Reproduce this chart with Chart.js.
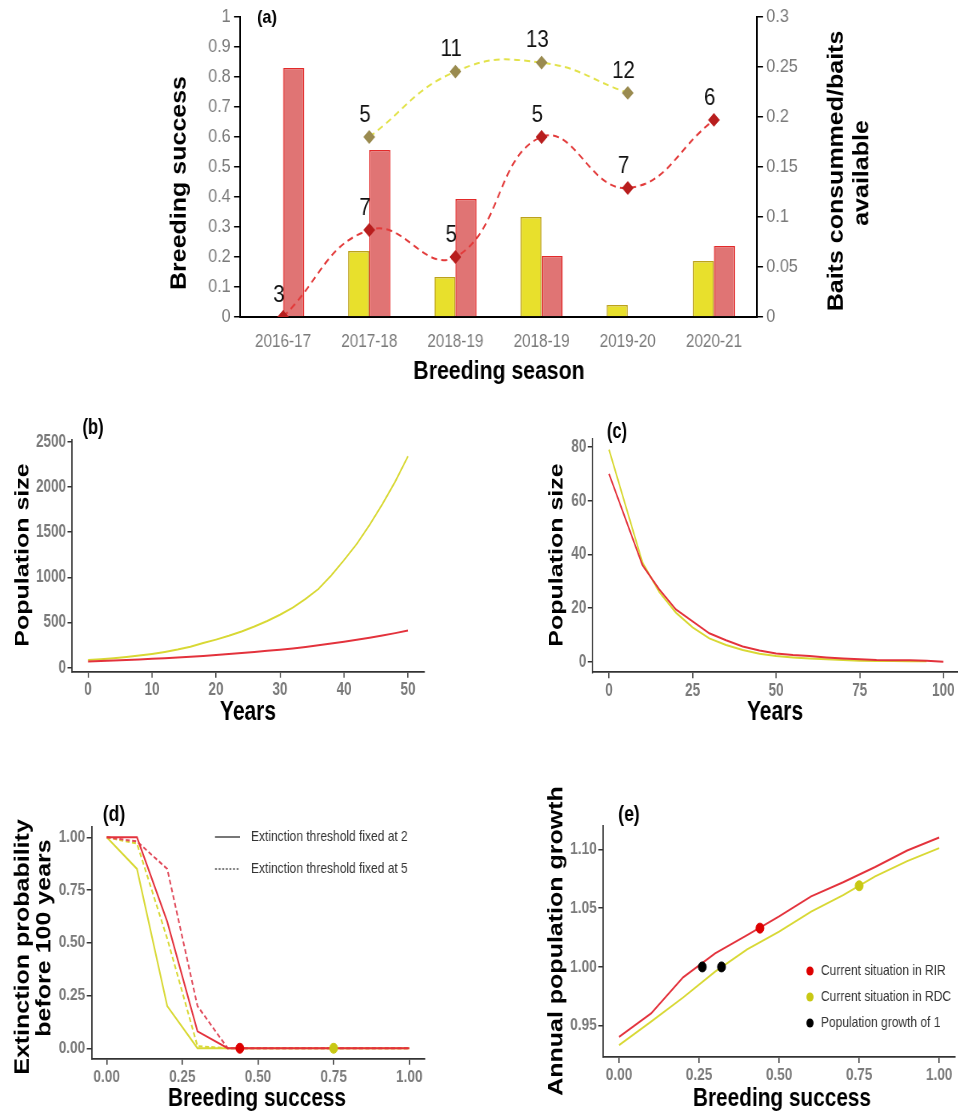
<!DOCTYPE html>
<html>
<head>
<meta charset="utf-8">
<script src="https://cdn.jsdelivr.net/npm/chart.js@4.4.0/dist/chart.umd.min.js"></script>
<style>
html, body { margin:0; padding:0; background:#fff; width:958px; height:1115px; overflow:hidden; }
.panel { position:absolute; }
.panel canvas { position:absolute; left:0; top:0; transform-origin:0 0; }
</style>
</head>
<body>
<script>
// ---- (a) breeding success and bait consumption per season
const seasons = ['2016-17', '2017-18', '2018-19', '2018-19', '2019-20', '2020-21'];
const successRIR = [0, 0.29, 0.2, 0.6, 0.43, 0.657];
const successRDC = [null, 0.6, 0.818, 0.848, 0.747, null];
const nestsRIR = [3, 7, 5, 5, 7, 6];
const nestsRDC = [null, 5, 11, 13, 12, null];
const baitsRDC = [null, 0.066, 0.040, 0.100, 0.012, 0.056];
const baitsRIR = [0.249, 0.167, 0.118, 0.061, null, 0.071];
const ticksSuccess = [0, 0.1, 0.2, 0.3, 0.4, 0.5, 0.6, 0.7, 0.8, 0.9, 1];
const ticksBaits = [0, 0.05, 0.1, 0.15, 0.2, 0.25, 0.3];

// ---- (b) population projection, growing
const yearsB = [0, 2, 4, 6, 8, 10, 12, 14, 16, 18, 20, 22, 24, 26, 28, 30, 32, 34, 36, 38, 40, 42, 44, 46, 48, 50];
const popRDC_B = [85, 93, 104, 117, 133, 152, 174, 200, 232, 272, 310, 352, 400, 455, 516, 585, 665, 760, 870, 1020, 1190, 1370, 1580, 1810, 2060, 2340];
const popRIR_B = [68, 73, 79, 85, 91, 98, 105, 113, 121, 130, 140, 150, 161, 173, 186, 199, 213, 229, 247, 266, 287, 308, 331, 356, 382, 410];
const ticksYearsB = [0, 10, 20, 30, 40, 50];
const ticksPopB = [0, 500, 1000, 1500, 2000, 2500];

// ---- (c) population projection, declining
const yearsC = [0, 5, 10, 15, 20, 25, 30, 35, 40, 45, 50, 55, 60, 65, 70, 75, 80, 85, 90, 95, 100];
const popRIR_C = [70, 53, 36, 27, 19.5, 15, 10.6, 8, 5.7, 4.2, 3.1, 2.5, 2.1, 1.6, 1.2, 0.9, 0.6, 0.5, 0.5, 0.4, 0];
const popRDC_C = [79, 58, 37, 26, 18.3, 12.8, 8.7, 6.2, 4.4, 3.0, 2.1, 1.6, 1.2, 0.9, 0.6, 0.4, 0.3, 0.25, 0.2, 0.2];
const ticksYearsC = [0, 25, 50, 75, 100];
const ticksPopC = [0, 20, 40, 60, 80];

// ---- (d) extinction probability
const bsD = [0, 0.1, 0.2, 0.3, 0.4, 0.5, 0.6, 0.7, 0.8, 0.9, 1.0];
const extRIR2 = [1, 1, 0.6, 0.08, 0, 0, 0, 0, 0, 0, 0];
const extRIR5 = [1, 0.98, 0.85, 0.2, 0, 0, 0, 0, 0, 0, 0];
const extRDC2 = [1, 0.85, 0.2, 0, 0, 0, 0, 0, 0, 0, 0];
const extRDC5 = [1, 0.97, 0.52, 0.01, 0, 0, 0, 0, 0, 0, 0];
const currentD_RIR = [0.44, 0];
const currentD_RDC = [0.75, 0];
const ticksBS = [0, 0.25, 0.5, 0.75, 1];
const ticksExt = [0, 0.25, 0.5, 0.75, 1];

// ---- (e) annual growth rate
const bsE = [0, 0.1, 0.2, 0.3, 0.4, 0.5, 0.6, 0.7, 0.8, 0.9, 1.0];
const growthRIR = [0.9406, 0.9605, 0.9912, 1.0116, 1.027, 1.043, 1.060, 1.072, 1.085, 1.099, 1.110];
const growthRDC = [0.9336, 0.9534, 0.974, 0.996, 1.015, 1.030, 1.047, 1.061, 1.077, 1.090, 1.101];
const currentE_RIR = [0.44, 1.033];
const currentE_RDC = [0.75, 1.069];
const growthOne = [[0.26, 1.0], [0.32, 1.0]];
const ticksGrowth = [0.95, 1.0, 1.05, 1.10];

const F = "'Liberation Sans', Arial, sans-serif";
const TICK = '#7a7a7a';
const AXIS = '#333';
const RED = '#e3323c';
const YEL = '#d8d834';

function xy(xs, ys) {
  return ys.map(function(v, i) { return {x: xs[i], y: v}; });
}

// each panel is a canvas squeezed horizontally, like the original figure
function panel(L, T, W, H, s) {
  var div = document.createElement('div');
  div.className = 'panel';
  div.style.left = L + 'px';
  div.style.top = T + 'px';
  div.style.width = W + 'px';
  div.style.height = H + 'px';
  var cv = document.createElement('canvas');
  var uw = Math.round(W / s);
  cv.width = uw;
  cv.height = H;
  cv.style.width = uw + 'px';
  cv.style.height = H + 'px';
  cv.style.transform = 'scaleX(' + s + ')';
  div.appendChild(cv);
  document.body.appendChild(div);
  return {
    cv: cv, uw: uw, H: H,
    X: function(tx) { return (tx - L) / s; },
    Y: function(ty) { return ty - T; }
  };
}

// texts, legend lines and dots drawn on top of a chart
function overlay(p, items) {
  return {
    id: 'overlay',
    afterDraw: function(chart) {
      var ctx = chart.ctx;
      items.forEach(function(t) {
        ctx.save();
        if (t.line) {
          ctx.strokeStyle = t.color;
          ctx.lineWidth = 1.6;
          ctx.setLineDash(t.dash || []);
          ctx.beginPath();
          ctx.moveTo(p.X(t.x1), p.Y(t.y));
          ctx.lineTo(p.X(t.x2), p.Y(t.y));
          ctx.stroke();
        } else if (t.dot) {
          ctx.fillStyle = t.color;
          ctx.beginPath();
          ctx.arc(p.X(t.x), p.Y(t.y), t.r, 0, Math.PI * 2);
          ctx.fill();
        } else {
          ctx.font = t.font;
          ctx.fillStyle = t.color || '#000';
          ctx.textAlign = t.align || 'center';
          ctx.textBaseline = 'middle';
          ctx.translate(p.X(t.x), p.Y(t.y));
          if (t.rot) ctx.rotate(t.rot);
          ctx.fillText(t.text, 0, 0);
        }
        ctx.restore();
      });
    }
  };
}

const countPlugin = {
  id: 'counts',
  afterDatasetsDraw: function(chart) {
    var ctx = chart.ctx;
    chart.data.datasets.forEach(function(ds, i) {
      if (!ds.counts) return;
      var meta = chart.getDatasetMeta(i);
      ctx.save();
      ctx.font = '24px ' + F;
      ctx.fillStyle = '#111';
      ctx.textAlign = 'center';
      ctx.textBaseline = 'middle';
      meta.data.forEach(function(el, j) {
        if (ds.counts[j] == null || ds.data[j] == null) return;
        ctx.fillText(String(ds.counts[j]), el.x - 5, el.y - 22);
      });
      ctx.restore();
    });
  }
};

const UP = -Math.PI / 2;
function fmt2(v) { return v.toFixed(2); }
function fmt0(v) { return String(v); }
function fmtShort(v) { return String(+v.toFixed(2)); }
function fixTicks(values) {
  return function(s) { s.ticks = values.map(function(v) { return {value: v}; }); };
}

function ggAxis(min, max, values, cb, size, fit) {
  return {
    type: 'linear', min: min, max: max,
    afterBuildTicks: fixTicks(values),
    ticks: { color: TICK, font: {family: F, size: size, weight: 'bold'}, padding: 2, maxRotation: 0, autoSkip: false, callback: cb },
    grid: { drawOnChartArea: false, color: AXIS, tickLength: 6, lineWidth: 1.5 },
    border: { color: AXIS, width: 1.8 },
    afterFit: fit
  };
}

function ggLine(data, color, dash) {
  return { data: data, borderColor: color, borderWidth: 2, borderDash: dash || [], pointRadius: 0, tension: 0, fill: false };
}
function ggPoint(pt, color, r) {
  return { type: 'scatter', data: [{x: pt[0], y: pt[1]}], pointRadius: r, pointBackgroundColor: color, pointBorderColor: color, showLine: false };
}

const base = { responsive: false, animation: false, plugins: { legend: {display: false}, tooltip: {enabled: false} } };

// ================= (a)
var pa = panel(150, 0, 760, 390, 0.85);
new Chart(pa.cv, {
  type: 'bar',
  data: {
    labels: seasons,
    datasets: [
      { type: 'line', data: successRIR, yAxisID: 'y', borderColor: '#e23a3a', borderWidth: 2, borderDash: [7, 5], tension: 0.45,
        pointStyle: 'rectRot', pointRadius: 5.5, pointBackgroundColor: '#b81e1e', pointBorderColor: '#b81e1e', counts: nestsRIR, order: 0, fill: false },
      { type: 'line', data: successRDC, yAxisID: 'y', borderColor: '#e2e24a', borderWidth: 2, borderDash: [7, 5], tension: 0.45,
        pointStyle: 'rectRot', pointRadius: 5.5, pointBackgroundColor: '#9a8b50', pointBorderColor: '#9a8b50', counts: nestsRDC, order: 0, fill: false },
      { data: baitsRDC, yAxisID: 'y1', backgroundColor: '#e8e02c', borderColor: '#bca21c', borderWidth: 1.5, order: 1, categoryPercentage: 0.49, barPercentage: 1 },
      { data: baitsRIR, yAxisID: 'y1', backgroundColor: '#e07474', borderColor: '#e22a2a', borderWidth: 1.5, order: 1, categoryPercentage: 0.49, barPercentage: 1 }
    ]
  },
  options: Object.assign({}, base, {
    layout: { padding: { top: 17, left: 0, right: 0, bottom: 0 } },
    scales: {
      x: {
        grid: { display: false, drawTicks: false },
        border: { color: '#000', width: 2 },
        ticks: { color: TICK, font: {family: F, size: 18}, padding: 14, maxRotation: 0, autoSkip: false },
        afterFit: function(s) { s.height = 390 - 317; }
      },
      y: {
        position: 'left', min: 0, max: 1,
        afterBuildTicks: fixTicks(ticksSuccess),
        ticks: { color: TICK, font: {family: F, size: 19}, padding: 4, callback: fmtShort },
        grid: { drawOnChartArea: false, color: '#000', tickLength: 7, lineWidth: 1.5 },
        border: { color: '#000', width: 2 },
        afterFit: function(s) { s.width = pa.X(240); }
      },
      y1: {
        position: 'right', min: 0, max: 0.3,
        afterBuildTicks: fixTicks(ticksBaits),
        ticks: { color: TICK, font: {family: F, size: 19}, padding: 4, callback: fmtShort },
        grid: { drawOnChartArea: false, color: '#000', tickLength: 7, lineWidth: 1.5 },
        border: { color: '#000', width: 2 },
        afterFit: function(s) { s.width = pa.uw - pa.X(757); }
      }
    }
  }),
  plugins: [countPlugin, overlay(pa, [
    { text: '(a)', x: 267, y: 18, font: 'bold 19px ' + F },
    { text: 'Breeding success', x: 180, y: 183, rot: UP, font: 'bold 25px ' + F },
    { text: 'Baits consummed/baits', x: 837, y: 171, rot: UP, font: 'bold 25px ' + F },
    { text: 'available', x: 862, y: 173, rot: UP, font: 'bold 25px ' + F },
    { text: 'Breeding season', x: 499, y: 372, font: 'bold 25px ' + F }
  ])]
});

// ================= (b)
var pb = panel(0, 395, 440, 340, 0.75);
new Chart(pb.cv, {
  type: 'line',
  data: { datasets: [ ggLine(xy(yearsB, popRIR_B), RED), ggLine(xy(yearsB, popRDC_B), YEL) ] },
  options: Object.assign({}, base, {
    layout: { padding: { top: 440 - 395, right: pb.uw - pb.X(424), left: 0, bottom: 0 } },
    scales: {
      x: ggAxis(-2.5, 52.5, ticksYearsB, fmt0, 18, function(s) { s.height = 735 - 671.7; }),
      y: ggAxis(-45, 2520, ticksPopB, fmt0, 18, function(s) { s.width = pb.X(72); })
    }
  }),
  plugins: [overlay(pb, [
    { text: '(b)', x: 93, y: 428, font: 'bold 22px ' + F },
    { text: 'Population size', x: 23, y: 555, rot: UP, font: 'bold 25px ' + F },
    { text: 'Years', x: 248, y: 712, font: 'bold 28px ' + F }
  ])]
});

// ================= (c)
var pc = panel(480, 395, 480, 340, 0.75);
new Chart(pc.cv, {
  type: 'line',
  data: { datasets: [ ggLine(xy(yearsC, popRIR_C), RED), ggLine(xy(yearsC, popRDC_C), YEL) ] },
  options: Object.assign({}, base, {
    layout: { padding: { top: 439 - 395, right: 0, left: 0, bottom: 0 } },
    scales: {
      x: ggAxis(-5, 105, ticksYearsC, fmt0, 18, function(s) { s.height = 735 - 672.3; }),
      y: ggAxis(-3.95, 83, ticksPopC, fmt0, 18, function(s) { s.width = pc.X(592.3); })
    }
  }),
  plugins: [overlay(pc, [
    { text: '(c)', x: 617, y: 432, font: 'bold 22px ' + F },
    { text: 'Population size', x: 557, y: 555, rot: UP, font: 'bold 25px ' + F },
    { text: 'Years', x: 775, y: 712, font: 'bold 28px ' + F }
  ])]
});

// ================= (d)
var pd = panel(0, 770, 440, 345, 0.8);
new Chart(pd.cv, {
  type: 'line',
  data: { datasets: [
    ggPoint(currentD_RIR, '#dd0000', 5),
    ggPoint(currentD_RDC, '#c8c814', 5),
    ggLine(xy(bsD, extRIR2), RED),
    ggLine(xy(bsD, extRIR5), '#e04a5a', [5, 3]),
    ggLine(xy(bsD, extRDC2), YEL),
    ggLine(xy(bsD, extRDC5), YEL, [5, 3])
  ] },
  options: Object.assign({}, base, {
    layout: { padding: { top: 826.7 - 770, right: pd.uw - pd.X(424.4), left: 0, bottom: 0 } },
    scales: {
      x: ggAxis(-0.05, 1.05, ticksBS, fmt2, 17, function(s) { s.height = 1115 - 1058.8; }),
      y: ggAxis(-0.05, 1.05, ticksExt, fmt2, 17, function(s) { s.width = pd.X(91.6); })
    }
  }),
  plugins: [overlay(pd, [
    { text: '(d)', x: 114, y: 815, font: 'bold 22px ' + F },
    { text: 'Extinction probability', x: 23, y: 947, rot: UP, font: 'bold 25px ' + F },
    { text: 'before 100 years', x: 45, y: 938, rot: UP, font: 'bold 25px ' + F },
    { text: 'Breeding success', x: 257, y: 1099, font: 'bold 26px ' + F },
    { line: true, x1: 215, x2: 240, y: 837, color: '#555' },
    { line: true, x1: 215, x2: 240, y: 869, color: '#555', dash: [2.5, 2] },
    { text: 'Extinction threshold fixed at 2', x: 251, y: 837, align: 'left', color: '#333', font: '15px ' + F },
    { text: 'Extinction threshold fixed at 5', x: 251, y: 869, align: 'left', color: '#333', font: '15px ' + F }
  ])]
});

// ================= (e)
var pe = panel(480, 770, 480, 345, 0.8);
new Chart(pe.cv, {
  type: 'line',
  data: { datasets: [
    ggPoint(growthOne[0], '#000', 5),
    ggPoint(growthOne[1], '#000', 5),
    ggPoint(currentE_RIR, '#dd0000', 5),
    ggPoint(currentE_RDC, '#c8c814', 5),
    ggLine(xy(bsE, growthRIR), RED),
    ggLine(xy(bsE, growthRDC), YEL)
  ] },
  options: Object.assign({}, base, {
    layout: { padding: { top: 826.4 - 770, right: Math.max(0, pe.uw - pe.X(959.5)), left: 0, bottom: 0 } },
    scales: {
      x: ggAxis(-0.05, 1.05, ticksBS, fmt2, 17, function(s) { s.height = 1115 - 1056.9; }),
      y: ggAxis(0.9235, 1.1195, ticksGrowth, fmt2, 17, function(s) { s.width = pe.X(603.1); })
    }
  }),
  plugins: [overlay(pe, [
    { text: '(e)', x: 629, y: 815, font: 'bold 22px ' + F },
    { text: 'Annual population growth', x: 557, y: 941, rot: UP, font: 'bold 25px ' + F },
    { text: 'Breeding success', x: 782, y: 1099, font: 'bold 26px ' + F },
    { dot: true, x: 810, y: 971, r: 4.5, color: '#dd0000' },
    { dot: true, x: 810, y: 997, r: 4.5, color: '#c8c814' },
    { dot: true, x: 810, y: 1023, r: 4.5, color: '#000' },
    { text: 'Current situation in RIR', x: 821, y: 971, align: 'left', color: '#333', font: '15px ' + F },
    { text: 'Current situation in RDC', x: 821, y: 997, align: 'left', color: '#333', font: '15px ' + F },
    { text: 'Population growth of 1', x: 821, y: 1023, align: 'left', color: '#333', font: '15px ' + F }
  ])]
});
</script>
</body>
</html>
